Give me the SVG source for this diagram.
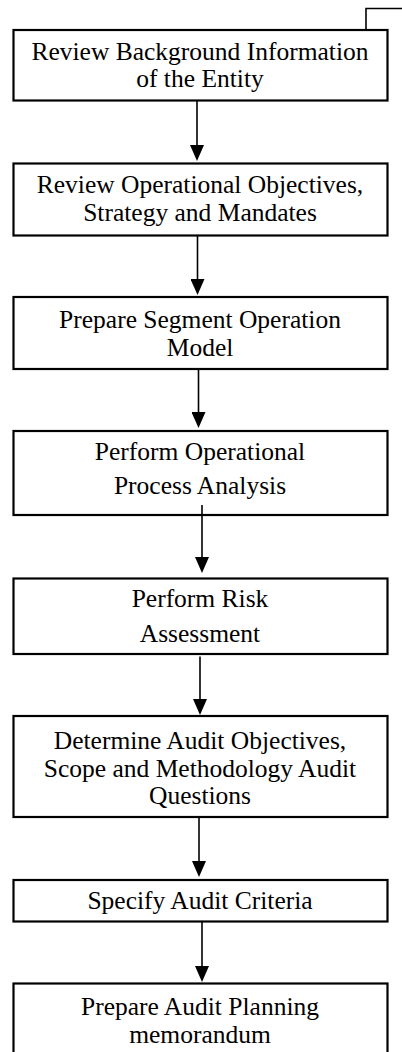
<svg xmlns="http://www.w3.org/2000/svg" width="402" height="1052" viewBox="0 0 402 1052">
  <style>
    .box { fill: #ffffff; stroke: #000000; stroke-width: 2.2; }
    .lbl { font-family: "Liberation Serif", "Times New Roman", serif; font-size: 25.5px; fill: #000000; text-anchor: middle; }
    .conn { stroke: #000000; stroke-width: 1.6; fill: none; }
  </style>
  <defs>
    <marker id="arrow" viewBox="0 0 16 14" refX="13" refY="7" markerWidth="16" markerHeight="14" markerUnits="userSpaceOnUse" orient="auto">
      <path d="M0,0 L16,7 L0,14 Z" fill="#000000"/>
    </marker>
  </defs>
  <rect width="402" height="1052" fill="#ffffff"/>

  <g id="n1">
    <rect class="box" x="13.5" y="30" width="374" height="70.5"/>
    <text class="lbl" x="200" y="59.5">Review Background Information</text>
    <text class="lbl" x="200" y="87">of the Entity</text>
  </g>
  <g id="n2">
    <rect class="box" x="13.5" y="163.5" width="374" height="72"/>
    <text class="lbl" x="200" y="192.5">Review Operational Objectives,</text>
    <text class="lbl" x="200" y="220.5">Strategy and Mandates</text>
  </g>
  <g id="n3">
    <rect class="box" x="13.5" y="297" width="374" height="72"/>
    <text class="lbl" x="200" y="328">Prepare Segment Operation</text>
    <text class="lbl" x="200" y="355.5">Model</text>
  </g>
  <g id="n4">
    <rect class="box" x="13.5" y="431" width="374" height="84"/>
    <text class="lbl" x="200" y="459.5">Perform Operational</text>
    <text class="lbl" x="200" y="493.5">Process Analysis</text>
  </g>
  <g id="n5">
    <rect class="box" x="13.5" y="578.5" width="374" height="75.5"/>
    <text class="lbl" x="200" y="607">Perform Risk</text>
    <text class="lbl" x="200" y="641.5">Assessment</text>
  </g>
  <g id="n6">
    <rect class="box" x="13.5" y="716" width="374" height="101"/>
    <text class="lbl" x="200" y="749">Determine Audit Objectives,</text>
    <text class="lbl" x="200" y="776.5">Scope and Methodology Audit</text>
    <text class="lbl" x="200" y="804">Questions</text>
  </g>
  <g id="n7">
    <rect class="box" x="13.5" y="880" width="374" height="41.5"/>
    <text class="lbl" x="200" y="909">Specify Audit Criteria</text>
  </g>
  <g id="n8">
    <rect class="box" x="13.5" y="983.5" width="374" height="80"/>
    <text class="lbl" x="200" y="1015">Prepare Audit Planning</text>
    <text class="lbl" x="200" y="1043">memorandum</text>
  </g>

  <g id="connectors">
    <path class="conn" d="M366,30 L366,8.5 L402,8.5"/>
    <line class="conn" x1="197" y1="101" x2="197" y2="158" marker-end="url(#arrow)"/>
    <line class="conn" x1="197.5" y1="236" x2="197.5" y2="292" marker-end="url(#arrow)"/>
    <line class="conn" x1="198.5" y1="370" x2="198.5" y2="425" marker-end="url(#arrow)"/>
    <line class="conn" x1="202" y1="505" x2="202" y2="570" marker-end="url(#arrow)"/>
    <line class="conn" x1="200" y1="656.5" x2="200" y2="712" marker-end="url(#arrow)"/>
    <line class="conn" x1="199" y1="818" x2="199" y2="874" marker-end="url(#arrow)"/>
    <line class="conn" x1="202" y1="922" x2="202" y2="979" marker-end="url(#arrow)"/>
  </g>
</svg>
